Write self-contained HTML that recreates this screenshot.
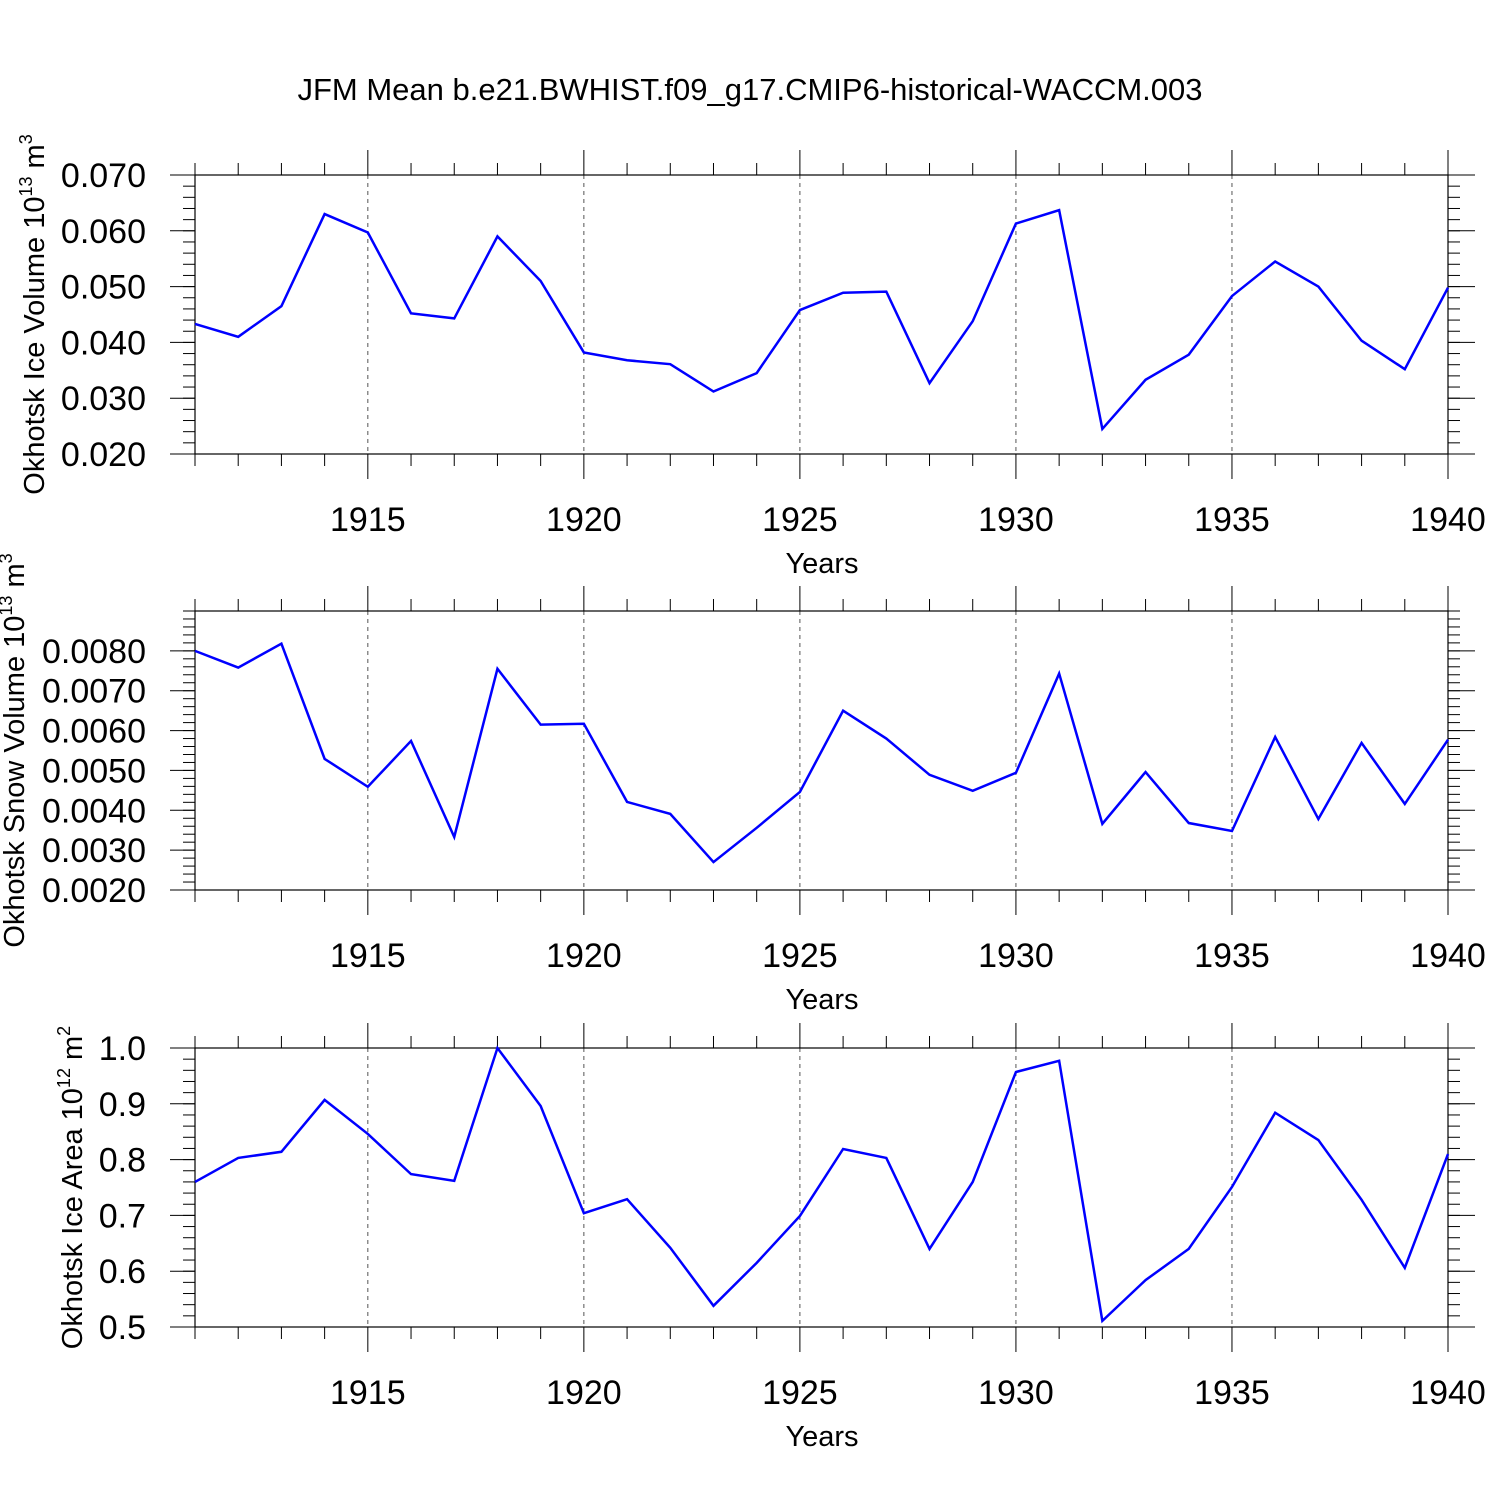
<!DOCTYPE html>
<html><head><meta charset="utf-8"><style>
body{margin:0;background:#fff}
svg{display:block;font-family:"Liberation Sans",sans-serif}
</style></head><body>
<svg id="chart" width="1500" height="1500" viewBox="0 0 1500 1500">
<text x="750" y="100" text-anchor="middle" font-size="31">JFM Mean b.e21.BWHIST.f09_g17.CMIP6-historical-WACCM.003</text>
</svg>
<script>
const years=[1911,1912,1913,1914,1915,1916,1917,1918,1919,1920,1921,1922,1923,1924,1925,1926,1927,1928,1929,1930,1931,1932,1933,1934,1935,1936,1937,1938,1939,1940];
const iceVolume=[0.0433,0.041,0.0465,0.063,0.0597,0.0452,0.0443,0.059,0.051,0.0382,0.0368,0.0361,0.0312,0.0345,0.0458,0.0489,0.0491,0.0327,0.0438,0.0613,0.0637,0.0245,0.0333,0.0378,0.0483,0.0545,0.0500,0.0403,0.0352,0.0498];
const snowVolume=[0.0080,0.00758,0.00818,0.00529,0.00459,0.00574,0.00333,0.00755,0.00615,0.00617,0.00421,0.00391,0.0027,0.00356,0.00446,0.0065,0.0058,0.00489,0.00449,0.00494,0.00743,0.00366,0.00496,0.00368,0.00348,0.00584,0.00378,0.00569,0.00416,0.00577];
const iceArea=[0.76,0.803,0.814,0.907,0.846,0.774,0.762,1.0,0.896,0.704,0.729,0.642,0.538,0.615,0.699,0.819,0.803,0.64,0.76,0.957,0.977,0.511,0.584,0.64,0.751,0.884,0.835,0.728,0.606,0.81];
const xTickLabels=[1915,1920,1925,1930,1935,1940];
const iceVolTicks=[0.020,0.030,0.040,0.050,0.060,0.070];
const snowTicks=[0.0020,0.0030,0.0040,0.0050,0.0060,0.0070,0.0080];
const areaTicks=[0.5,0.6,0.7,0.8,0.9,1.0];

const NS="http://www.w3.org/2000/svg";
const svg=document.getElementById('chart');
function mk(tag,attrs,parent){const e=document.createElementNS(NS,tag);for(const k in attrs)e.setAttribute(k,attrs[k]);(parent||svg).appendChild(e);return e;}
const X0=195,X1=1448,xmin=1911,xmax=1940;
const xs=v=>X0+(v-xmin)/(xmax-xmin)*(X1-X0);

const panels=[
 {top:175,bot:454,ymin:0.020,ymax:0.070,data:iceVolume,ticks:iceVolTicks,dec:3,minor:0.002,title:'Okhotsk Ice Volume 10',sup:'13',unit:' m',usup:'3',tx:44,name:'ice-volume'},
 {top:611,bot:890,ymin:0.0020,ymax:0.0090,data:snowVolume,ticks:snowTicks,dec:4,minor:0.0002,title:'Okhotsk Snow Volume 10',sup:'13',unit:' m',usup:'3',tx:24,name:'snow-volume'},
 {top:1048,bot:1327,ymin:0.5,ymax:1.0,data:iceArea,ticks:areaTicks,dec:1,minor:0.02,title:'Okhotsk Ice Area 10',sup:'12',unit:' m',usup:'2',tx:82,name:'ice-area'}
];
panels.forEach(p=>{
 const g=mk('g',{});
 
 
 const ys=v=>p.bot-(v-p.ymin)/(p.ymax-p.ymin)*(p.bot-p.top);
 xTickLabels.forEach(y=>{ if(y<xmax){const l=mk('line',{x1:xs(y),x2:xs(y),y1:p.top,y2:p.bot,stroke:'#555','stroke-width':1,'stroke-dasharray':'4,4'},g);
  }});
 const fr=mk('rect',{x:X0,y:p.top,width:X1-X0,height:p.bot-p.top,fill:'none',stroke:'#000','stroke-width':1.2},g);
 
 years.forEach(y=>{const maj=y%5===0;const L=maj?25:12;const x=xs(y);
  mk('line',{x1:x,x2:x,y1:p.bot,y2:p.bot+L,stroke:'#000','stroke-width':1},g);
  mk('line',{x1:x,x2:x,y1:p.top,y2:p.top-L,stroke:'#000','stroke-width':1},g);});
 xTickLabels.forEach(y=>{const t=mk('text',{x:xs(y),y:p.bot+77,'text-anchor':'middle','font-size':34},g);t.textContent=y;
  });
 const xt=mk('text',{x:822,y:p.bot+119,'text-anchor':'middle','font-size':29},g);xt.textContent='Years';
 
 const n=Math.round((p.ymax-p.ymin)/p.minor);
 for(let i=0;i<=n;i++){const v=p.ymin+i*p.minor;const y=ys(v);
  mk('line',{x1:X0-12,x2:X0,y1:y,y2:y,stroke:'#000','stroke-width':1},g);
  mk('line',{x1:X1,x2:X1+12,y1:y,y2:y,stroke:'#000','stroke-width':1},g);}
 p.ticks.forEach(v=>{const y=ys(v);
  mk('line',{x1:X0-25,x2:X0,y1:y,y2:y,stroke:'#000','stroke-width':1},g);
  mk('line',{x1:X1,x2:X1+27,y1:y,y2:y,stroke:'#000','stroke-width':1},g);
  const t=mk('text',{x:146,y:y+12,'text-anchor':'end','font-size':34},g);t.textContent=v.toFixed(p.dec);
  });
 const cy=(p.top+p.bot)/2;
 const yt=mk('text',{x:p.tx,y:cy,'text-anchor':'middle','font-size':29,transform:`rotate(-90 ${p.tx} ${cy})`},g);
 
 yt.innerHTML=`${p.title}<tspan dy="-12" font-size="18">${p.sup}</tspan><tspan dy="12">${p.unit}</tspan><tspan dy="-12" font-size="18">${p.usup}</tspan>`;
 const pts=years.map((y,i)=>xs(y)+','+ys(p.data[i])).join(' ');
 const pl=mk('polyline',{points:pts,fill:'none',stroke:'#0000ff','stroke-width':2.5,'stroke-linejoin':'miter'},g);
 
});
</script>
</body></html>
